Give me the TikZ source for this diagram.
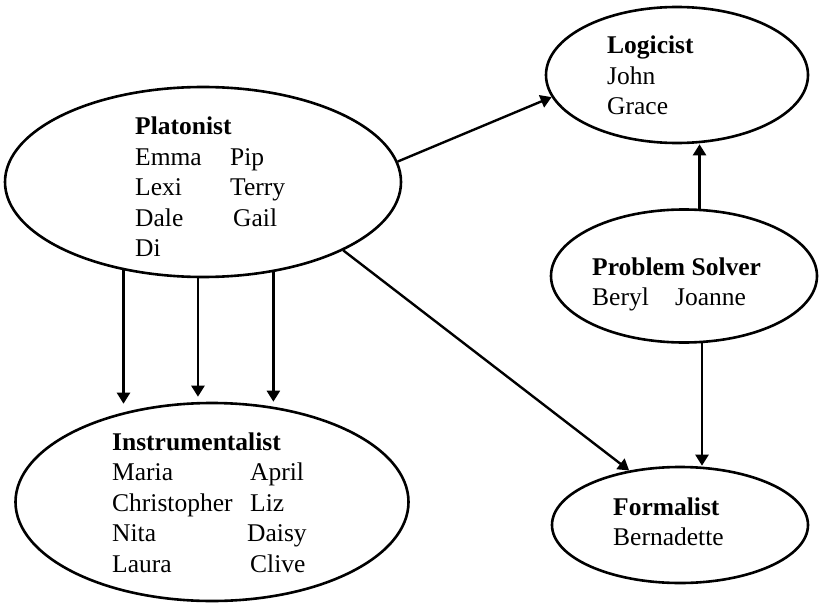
\documentclass[tikz,border=0pt]{standalone}
\usepackage{fontspec}
\setmainfont{Liberation Serif}
\usetikzlibrary{shapes.geometric,arrows.meta}
\tikzset{
  oval/.style={ellipse, draw, line width=2.6pt, inner sep=0pt},
  names/.style={anchor=base west, inner sep=0pt, font=\fontsize{25.5}{30.5}\selectfont},
  arr/.style={line width=2.4pt, -{Triangle[length=11pt,width=13pt]}}
}
\begin{document}
\begin{tikzpicture}[x=1pt,y=-1pt]
\useasboundingbox (0,0) rectangle (821,604);

% the five groups
\node[oval, minimum width=396pt, minimum height=190pt] (plat) at (203,182) {};
\node[oval, minimum width=393pt, minimum height=198pt] (inst) at (212,502) {};
\node[oval, minimum width=262pt, minimum height=136pt] (logi) at (677,75) {};
\node[oval, minimum width=266pt, minimum height=133pt] (ps)   at (684,276) {};
\node[oval, minimum width=256pt, minimum height=116pt] (form) at (680,525) {};

% member lists
\node[names] (platT) at (135,135) {\begin{tabular}[t]{@{}p{95pt}@{}l@{}}
  \multicolumn{2}{@{}l@{}}{\textbf{Platonist}}\\
  Emma & Pip\\ Lexi & Terry\\ Dale & \hspace{3pt}Gail\\ Di & \end{tabular}};
\node[names] (instT) at (112,450) {\begin{tabular}[t]{@{}p{138pt}@{}l@{}}
  \multicolumn{2}{@{}l@{}}{\textbf{Instrumentalist}}\\
  Maria & April\\ Christopher & Liz\\ Nita & \hspace{-3pt}Daisy\\ Laura & Clive\end{tabular}};
\node[names] (logiT) at (607,54) {\begin{tabular}[t]{@{}l@{}}
  \textbf{Logicist}\\ John\\ Grace\end{tabular}};
\node[names] (psT) at (592,275) {\begin{tabular}[t]{@{}p{83pt}@{}l@{}}
  \multicolumn{2}{@{}l@{}}{\textbf{Problem Solver}}\\
  Beryl & Joanne\end{tabular}};
\node[names] (formT) at (613,515) {\begin{tabular}[t]{@{}l@{}}
  \textbf{Formalist}\\ Bernadette\end{tabular}};

% connectors
\draw[arr] (plat.228.2) -- ([yshift=-2pt]plat.228.2 |- inst.north);
\draw[arr] (plat.267.6) -- ([yshift=5pt]plat.267.6 |- inst.north);
\draw[arr] (plat.308.7) -- ([yshift=0pt]plat.308.7 |- inst.north);
\draw[arr] (plat.6.5) -- (logi.190.7);
\draw[arr] (plat.334) -- (form.133.4);
\draw[arr] (ps.77.3) -- (ps.77.3 |- logi.south);
\draw[arr] (ps.285.2) -- (ps.285.2 |- form.north);
\end{tikzpicture}
\end{document}
